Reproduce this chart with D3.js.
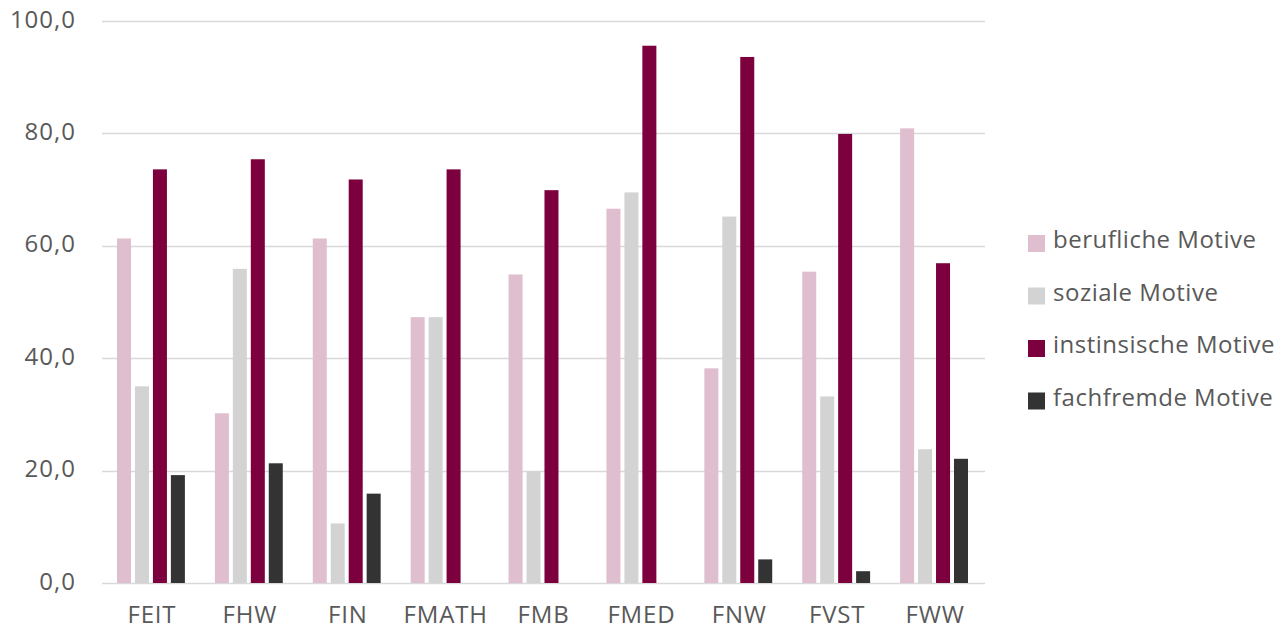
<!DOCTYPE html>
<html>
<head>
<meta charset="utf-8">
<script src="https://cdn.jsdelivr.net/npm/d3@7"></script>
<style>
  body { margin: 0; background: #fff; }
  text { font-family: "Open Sans", "DejaVu Sans", sans-serif; fill: #595959; }
</style>
</head>
<body>
<div id="chart"></div>
<script>
var categories = ["FEIT", "FHW", "FIN", "FMATH", "FMB", "FMED", "FNW", "FVST", "FWW"];
var seriesNames = ["berufliche Motive", "soziale Motive", "instinsische Motive", "fachfremde Motive"];
var berufliche = [61.3, 30.2, 61.3, 47.3, 54.9, 66.6, 38.2, 55.4, 80.9];
var soziale = [35.0, 55.9, 10.6, 47.3, 19.9, 69.5, 65.2, 33.2, 23.8];
var instinsische = [73.6, 75.4, 71.8, 73.6, 69.9, 95.6, 93.6, 79.9, 56.9];
var fachfremde = [19.2, 21.3, 15.9, 0, 0, 0, 4.2, 2.1, 22.1];
var yTicks = [0, 20, 40, 60, 80, 100];
var colors = ["#dfbfcf", "#d3d3d3", "#7b003d", "#333333"];

var width = 1283, height = 630;
var margin = { top: 21, right: 300, bottom: 47, left: 102 };

var series = [berufliche, soziale, instinsische, fachfremde];
var data = categories.map(function (c, i) {
    return { cat: c, values: series.map(function (s, j) { return { key: j, value: s[i] }; }) };
});

var svg = d3.select("#chart").append("svg")
    .attr("width", width)
    .attr("height", height);

var x0 = d3.scaleBand()
    .domain(categories)
    .range([margin.left, 983])
    .paddingInner(0)
    .paddingOuter(0);

var x1 = d3.scaleBand()
    .domain(d3.range(series.length))
    .range([15, x0.bandwidth() - 15])
    .paddingInner(0.22);

var y = d3.scaleLinear()
    .domain([0, 100])
    .range([height - margin.bottom, margin.top]);

// gridlines
svg.append("g")
    .selectAll("line")
    .data(yTicks)
    .enter().append("line")
    .attr("x1", margin.left)
    .attr("x2", 985)
    .attr("y1", function (d) { return Math.round(y(d)) + 0.5; })
    .attr("y2", function (d) { return Math.round(y(d)) + 0.5; })
    .attr("stroke", "#d9d9d9")
    .attr("stroke-width", 1.5);

// y axis labels
var yAxis = d3.axisLeft(y)
    .tickValues(yTicks)
    .tickSize(0)
    .tickPadding(0)
    .tickFormat(function (d) { return d3.format(".1f")(d).replace(".", ","); });

svg.append("g")
    .attr("transform", "translate(76,0)")
    .call(yAxis)
    .call(function (g) { g.select(".domain").remove(); })
    .selectAll("text")
    .attr("font-size", 24)
    .attr("letter-spacing", 1)
    .attr("dy", "0.25em")
    .style("fill", "#595959");

// bars
var groups = svg.append("g")
    .selectAll("g")
    .data(data)
    .enter().append("g")
    .attr("transform", function (d) { return "translate(" + x0(d.cat) + ",0)"; });

groups.selectAll("rect")
    .data(function (d) { return d.values.filter(function (v) { return v.value > 0; }); })
    .enter().append("rect")
    .attr("x", function (d) { return x1(d.key); })
    .attr("width", x1.bandwidth())
    .attr("y", function (d) { return y(d.value); })
    .attr("height", function (d) { return y(0) - y(d.value); })
    .attr("fill", function (d) { return colors[d.key]; });

// x axis labels
var xAxis = d3.axisBottom(x0)
    .tickSize(0)
    .tickPadding(0);

svg.append("g")
    .attr("transform", "translate(1,623)")
    .call(xAxis)
    .call(function (g) { g.select(".domain").remove(); })
    .selectAll("text")
    .attr("font-size", 24)
    .attr("letter-spacing", 0.8)
    .attr("dy", 0)
    .style("fill", "#595959");

// legend
var legend = svg.append("g")
    .selectAll("g")
    .data(seriesNames)
    .enter().append("g")
    .attr("transform", function (d, i) { return "translate(1028," + (235 + i * 52.5) + ")"; });

legend.append("rect")
    .attr("width", 17)
    .attr("height", 17)
    .attr("fill", function (d, i) { return colors[i]; });

legend.append("text")
    .attr("x", 25)
    .attr("y", 13)
    .attr("font-size", 24)
    .attr("letter-spacing", 0.5)
    .text(function (d) { return d; });
</script>
</body>
</html>
